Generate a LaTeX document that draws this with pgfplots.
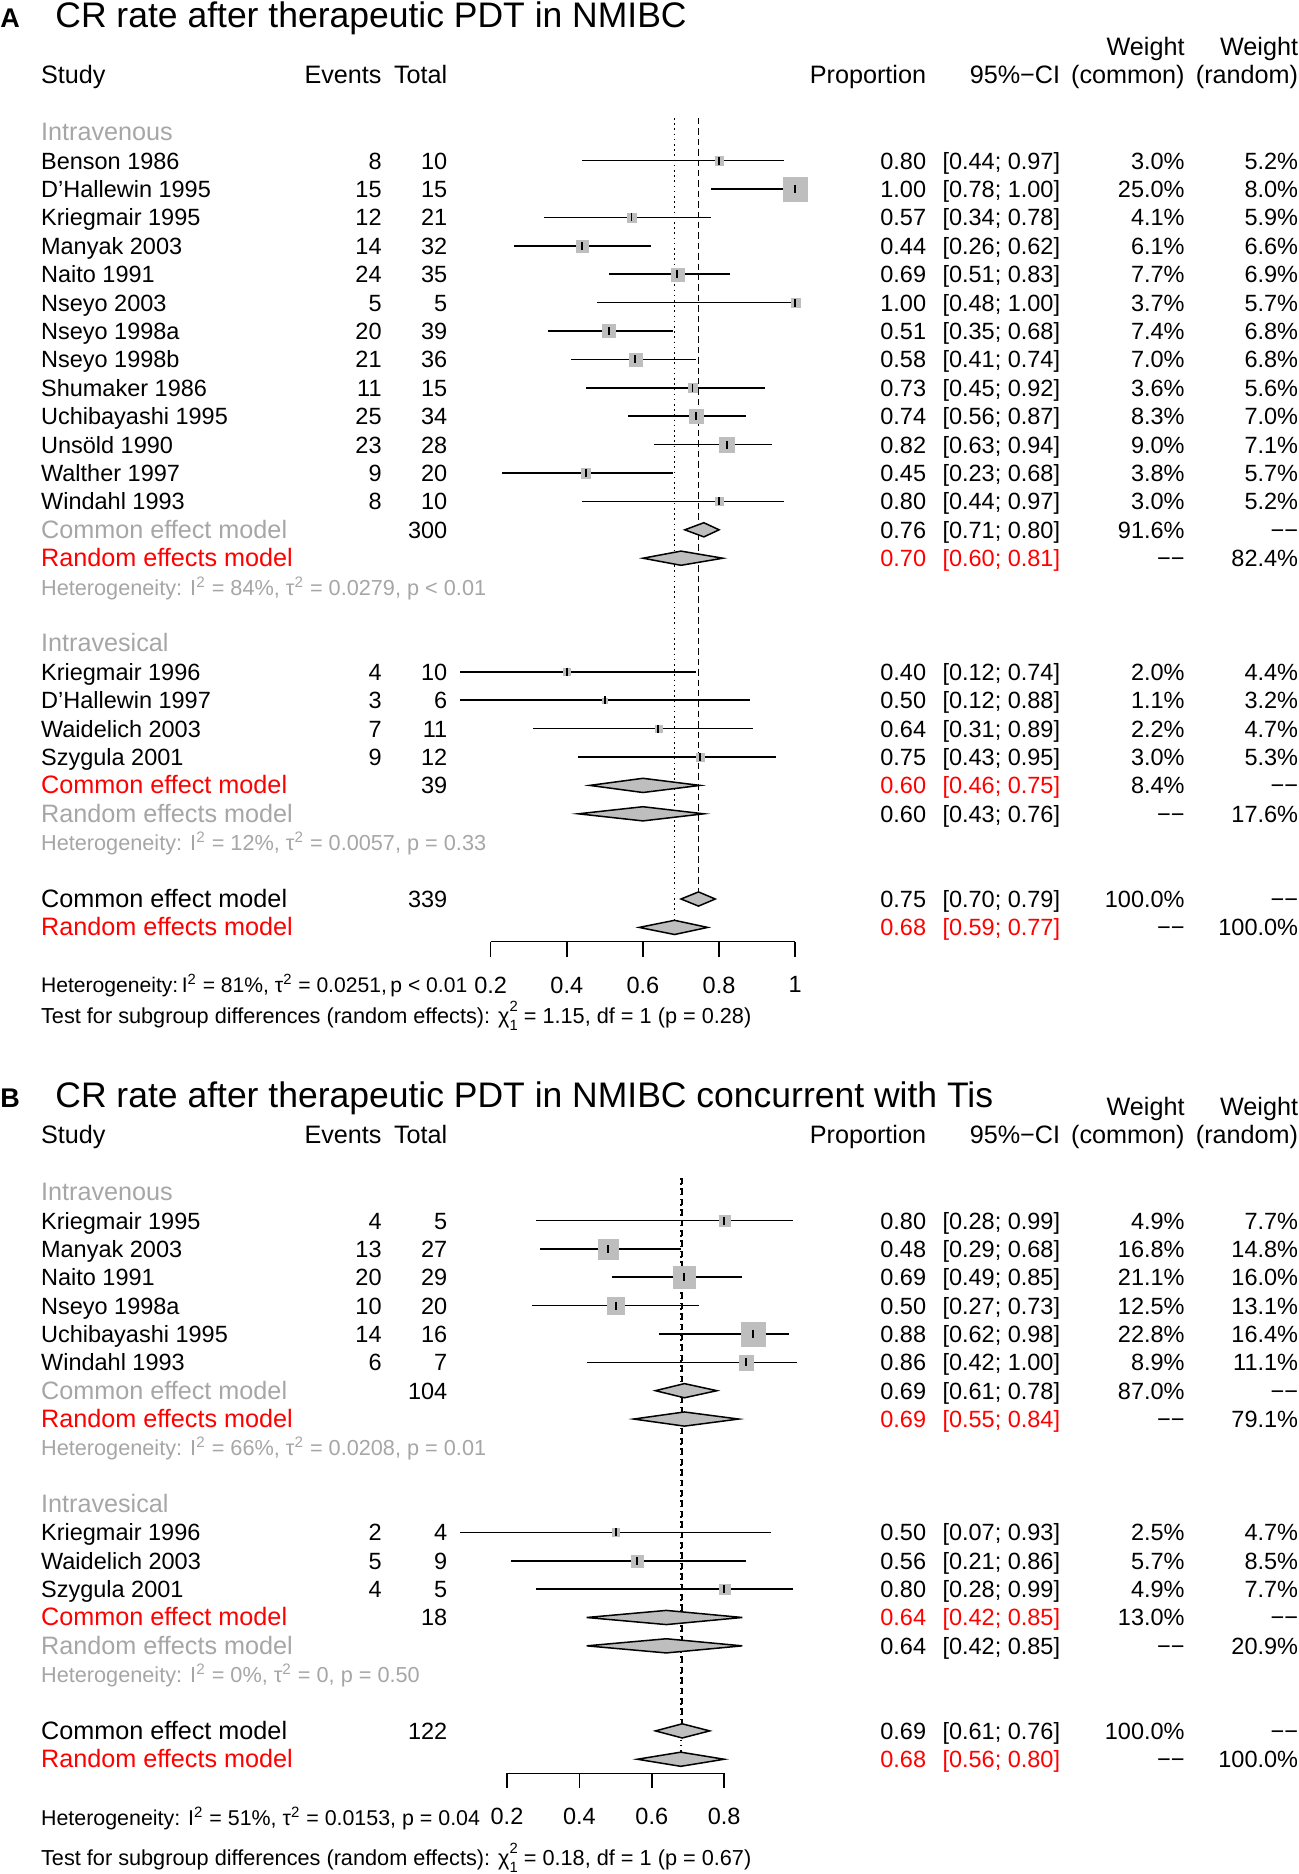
\documentclass[border=0pt]{standalone}
\usepackage{pgfplots}
\pgfplotsset{compat=1.18}
\usepackage{pgfplotstable}
\usepackage{fontspec}
\setmainfont{Liberation Sans}
\definecolor{sqgray}{RGB}{190,190,190}
\definecolor{txtgray}{RGB}{166,166,166}
\definecolor{rred}{RGB}{255,0,0}
\newcommand\fs{\fontsize{11.75}{14}\selectfont}
\newcommand\fm{\fontsize{12.6}{15}\selectfont}
\newcommand\fh{\fontsize{10.85}{13}\selectfont}
\newcommand\gr[1]{\textcolor{txtgray}{#1}}
\newcommand\rd[1]{\textcolor{rred}{#1}}
\newcommand\ml[1]{{\fm #1}}
\newcommand\dd{−−}
\newcommand\chisq{χ\rlap{\raisebox{0.52em}{\fontsize{7.4}{8}\selectfont 2}}\raisebox{-0.33em}{\fontsize{7.4}{8}\selectfont 1}}
\newcommand\Row[8]{%
\node[anchor=base west] at (40.7,{#1}) {#2};
\node[anchor=base east] at (382,{#1}) {#3};
\node[anchor=base east] at (447.7,{#1}) {#4};
\node[anchor=base east] at (926.5,{#1}) {#5};
\node[anchor=base east] at (1060.5,{#1}) {#6};
\node[anchor=base east] at (1185,{#1}) {#7};
\node[anchor=base east] at (1298.5,{#1}) {#8};}
\newcommand\yA[1]{169+28.4*(#1)}
\newcommand\yB[1]{1229+28.35*(#1)}

\pgfplotstableread{
y p lo hi wc
0 0.80 0.44 0.97 3.0
-1 1.00 0.78 1.00 25.0
-2 0.57 0.34 0.78 4.1
-3 0.44 0.26 0.62 6.1
-4 0.69 0.51 0.83 7.7
-5 1.00 0.48 1.00 3.7
-6 0.51 0.35 0.68 7.4
-7 0.58 0.41 0.74 7.0
-8 0.73 0.45 0.92 3.6
-9 0.74 0.56 0.87 8.3
-10 0.82 0.63 0.94 9.0
-11 0.45 0.23 0.68 3.8
-12 0.80 0.44 0.97 3.0
-18 0.40 0.12 0.74 2.0
-19 0.50 0.12 0.88 1.1
-20 0.64 0.31 0.89 2.2
-21 0.75 0.43 0.95 3.0
}\studA

\pgfplotstableread{
y p lo hi wc
0 0.80 0.28 0.99 4.9
-1 0.48 0.29 0.68 16.8
-2 0.69 0.49 0.85 21.1
-3 0.50 0.27 0.73 12.5
-4 0.88 0.62 0.98 22.8
-5 0.86 0.42 1.00 8.9
-11 0.50 0.07 0.93 2.5
-12 0.56 0.21 0.86 5.7
-13 0.80 0.28 0.99 4.9
}\studB

\pgfplotsset{
  forestaxis/.style={
    anchor=south west,
    axis x line=bottom, axis y line=none, x axis line style={-, line width=0.75pt},
    tick align=outside, major tick length=7.5pt,
    tick style={black, line width=0.75pt},
    xticklabel style={font=\fs, inner sep=0pt, yshift=-9.8pt},
    ytick=\empty, clip=false},
  diam/.style={fill=sqgray, draw=black, line width=0.75pt},
  dashref/.style={black, line width=0.75pt, dash pattern=on 3.2pt off 2pt},
  dotref/.style={black, line width=0.75pt, dash pattern=on 0.75pt off 1.85pt},
  sq/.style={scatter, only marks, mark=square*,
    scatter/use mapped color={draw=sqgray, fill=sqgray},
    mark options={line width=0.1pt}},
  cibars/.style={black, only marks, mark=|, mark size=2pt, mark options={line width=0.9pt, solid, draw=black},
    error bars/.cd, x dir=both, x explicit, error mark=none, error bar style={black, line width=0.8pt, solid}},
}

\begin{document}
\begin{tikzpicture}[every node/.style={font=\fs, inner sep=0pt}]
\useasboundingbox (0pt,0pt) rectangle (649.5pt,-937pt);

% ---------------- Panel A ----------------
\begin{axis}[forestaxis, at={(245.35pt,-470.8pt)}, x=190.3pt, y=14.2pt,
  xmin=0.2, xmax=1, ymin=-27.5, ymax=2,
  xtick={0.2,0.4,0.6,0.8,1}, xticklabels={0.2,0.4,0.6,0.8,1}]
\addplot[dashref] coordinates {(0.746,1.5) (0.746,-25.75)};
\addplot[dotref] coordinates {(0.683,1.5) (0.683,-26.75)};
\addplot[sq, visualization depends on={1.185*sqrt(\thisrow{wc}) \as \msz},
  scatter/@pre marker code/.append style={/tikz/mark size=\msz}] table[x=p, y=y] {\studA};
\addplot[cibars] table[x=p, y=y, x error minus expr=\thisrow{p}-\thisrow{lo}, x error plus expr=\thisrow{hi}-\thisrow{p}] {\studA};
\addplot[diam] coordinates {(0.71,-13) (0.76,-12.75) (0.80,-13) (0.76,-13.25)} -- cycle;
\addplot[diam] coordinates {(0.60,-14) (0.70,-13.75) (0.81,-14) (0.70,-14.25)} -- cycle;
\addplot[diam] coordinates {(0.46,-22) (0.60,-21.75) (0.75,-22) (0.60,-22.25)} -- cycle;
\addplot[diam] coordinates {(0.43,-23) (0.60,-22.75) (0.76,-23) (0.60,-23.25)} -- cycle;
\addplot[diam] coordinates {(0.70,-26) (0.746,-25.75) (0.79,-26) (0.746,-26.25)} -- cycle;
\addplot[diam] coordinates {(0.59,-27) (0.683,-26.75) (0.77,-27) (0.683,-27.25)} -- cycle;
\end{axis}

% ---------------- Panel B ----------------
\begin{axis}[forestaxis, at={(253.5pt,-886.7pt)}, x=181pt, y=14.175pt,
  xmin=0.2, xmax=0.8, ymin=-19.5, ymax=2,
  xtick={0.2,0.4,0.6,0.8}, xticklabels={0.2,0.4,0.6,0.8}]
\addplot[dashref] coordinates {(0.684,1.5) (0.684,-17.75)};
\addplot[dotref] coordinates {(0.68,1.5) (0.68,-18.75)};
\addplot[sq, visualization depends on={1.22*sqrt(\thisrow{wc}) \as \msz},
  scatter/@pre marker code/.append style={/tikz/mark size=\msz}] table[x=p, y=y] {\studB};
\addplot[cibars] table[x=p, y=y, x error minus expr=\thisrow{p}-\thisrow{lo}, x error plus expr=\thisrow{hi}-\thisrow{p}] {\studB};
\addplot[diam] coordinates {(0.61,-6) (0.69,-5.75) (0.78,-6) (0.69,-6.25)} -- cycle;
\addplot[diam] coordinates {(0.55,-7) (0.69,-6.75) (0.84,-7) (0.69,-7.25)} -- cycle;
\addplot[diam] coordinates {(0.42,-14) (0.64,-13.75) (0.85,-14) (0.64,-14.25)} -- cycle;
\addplot[diam] coordinates {(0.42,-15) (0.64,-14.75) (0.85,-15) (0.64,-15.25)} -- cycle;
\addplot[diam] coordinates {(0.61,-18) (0.684,-17.75) (0.76,-18) (0.684,-18.25)} -- cycle;
\addplot[diam] coordinates {(0.56,-19) (0.68,-18.75) (0.80,-19) (0.68,-19.25)} -- cycle;
\end{axis}

\begin{scope}[x=0.5pt, y=-0.5pt]
% ---- Panel A text ----
\node[anchor=base west, font=\bfseries\fontsize{13.5}{16}\selectfont] at (0,27) {A};
\node[anchor=base west, font=\fontsize{17.75}{20}\selectfont] at (55,27) {CR rate after therapeutic PDT in NMIBC};
\node[anchor=base east, font=\fm] at (1185,{\yA{-4}}) {Weight};
\node[anchor=base east, font=\fm] at (1298.5,{\yA{-4}}) {Weight};
\Row{\yA{-3}}{\ml{Study}}{\ml{Events}}{\ml{Total}}{\ml{Proportion}}{\ml{95\%−CI}}{\ml{(common)}}{\ml{(random)}}
\node[anchor=base west] at (40.7,{\yA{-1}}) {\ml{\gr{Intravenous}}};
\Row{\yA{0}}{Benson 1986}{8}{10}{0.80}{[0.44; 0.97]}{3.0\%}{5.2\%}
\Row{\yA{1}}{D'Hallewin 1995}{15}{15}{1.00}{[0.78; 1.00]}{25.0\%}{8.0\%}
\Row{\yA{2}}{Kriegmair 1995}{12}{21}{0.57}{[0.34; 0.78]}{4.1\%}{5.9\%}
\Row{\yA{3}}{Manyak 2003}{14}{32}{0.44}{[0.26; 0.62]}{6.1\%}{6.6\%}
\Row{\yA{4}}{Naito 1991}{24}{35}{0.69}{[0.51; 0.83]}{7.7\%}{6.9\%}
\Row{\yA{5}}{Nseyo 2003}{5}{5}{1.00}{[0.48; 1.00]}{3.7\%}{5.7\%}
\Row{\yA{6}}{Nseyo 1998a}{20}{39}{0.51}{[0.35; 0.68]}{7.4\%}{6.8\%}
\Row{\yA{7}}{Nseyo 1998b}{21}{36}{0.58}{[0.41; 0.74]}{7.0\%}{6.8\%}
\Row{\yA{8}}{Shumaker 1986}{11}{15}{0.73}{[0.45; 0.92]}{3.6\%}{5.6\%}
\Row{\yA{9}}{Uchibayashi 1995}{25}{34}{0.74}{[0.56; 0.87]}{8.3\%}{7.0\%}
\Row{\yA{10}}{Unsöld 1990}{23}{28}{0.82}{[0.63; 0.94]}{9.0\%}{7.1\%}
\Row{\yA{11}}{Walther 1997}{9}{20}{0.45}{[0.23; 0.68]}{3.8\%}{5.7\%}
\Row{\yA{12}}{Windahl 1993}{8}{10}{0.80}{[0.44; 0.97]}{3.0\%}{5.2\%}
\Row{\yA{13}}{\ml{\gr{Common effect model}}}{}{300}{0.76}{[0.71; 0.80]}{91.6\%}{\dd}
\Row{\yA{14}}{\ml{\rd{Random effects model}}}{}{}{\rd{0.70}}{\rd{[0.60; 0.81]}}{\dd}{82.4\%}
\node[anchor=base west, font=\fh] at (40.7,{\yA{15}}) {\gr{Heterogeneity: I\textsuperscript{2} = 84\%, τ\textsuperscript{2} = 0.0279, p < 0.01}};
\node[anchor=base west] at (40.7,{\yA{17}}) {\ml{\gr{Intravesical}}};
\Row{\yA{18}}{Kriegmair 1996}{4}{10}{0.40}{[0.12; 0.74]}{2.0\%}{4.4\%}
\Row{\yA{19}}{D'Hallewin 1997}{3}{6}{0.50}{[0.12; 0.88]}{1.1\%}{3.2\%}
\Row{\yA{20}}{Waidelich 2003}{7}{11}{0.64}{[0.31; 0.89]}{2.2\%}{4.7\%}
\Row{\yA{21}}{Szygula 2001}{9}{12}{0.75}{[0.43; 0.95]}{3.0\%}{5.3\%}
\Row{\yA{22}}{\ml{\rd{Common effect model}}}{}{39}{\rd{0.60}}{\rd{[0.46; 0.75]}}{8.4\%}{\dd}
\Row{\yA{23}}{\ml{\gr{Random effects model}}}{}{}{0.60}{[0.43; 0.76]}{\dd}{17.6\%}
\node[anchor=base west, font=\fh] at (40.7,{\yA{24}}) {\gr{Heterogeneity: I\textsuperscript{2} = 12\%, τ\textsuperscript{2} = 0.0057, p = 0.33}};
\Row{\yA{26}}{\ml{Common effect model}}{}{339}{0.75}{[0.70; 0.79]}{100.0\%}{\dd}
\Row{\yA{27}}{\ml{\rd{Random effects model}}}{}{}{\rd{0.68}}{\rd{[0.59; 0.77]}}{\dd}{100.0\%}
\node[anchor=base west, font=\fontsize{10.55}{13}\selectfont] at (40.7,992) {Heterogeneity:\,I\textsuperscript{2} = 81\%, τ\textsuperscript{2} = 0.0251,\,p < 0.01};
\node[anchor=base west, font=\fh] at (40.7,1023) {Test for subgroup differences (random effects): \chisq{} = 1.15, df = 1 (p = 0.28)};

% ---- Panel B text ----
\node[anchor=base west, font=\bfseries\fontsize{13.5}{16}\selectfont] at (0,1107) {B};
\node[anchor=base west, font=\fontsize{17.75}{20}\selectfont] at (55,1107) {CR rate after therapeutic PDT in NMIBC concurrent with Tis};
\node[anchor=base east, font=\fm] at (1185,{\yB{-4}}) {Weight};
\node[anchor=base east, font=\fm] at (1298.5,{\yB{-4}}) {Weight};
\Row{\yB{-3}}{\ml{Study}}{\ml{Events}}{\ml{Total}}{\ml{Proportion}}{\ml{95\%−CI}}{\ml{(common)}}{\ml{(random)}}
\node[anchor=base west] at (40.7,{\yB{-1}}) {\ml{\gr{Intravenous}}};
\Row{\yB{0}}{Kriegmair 1995}{4}{5}{0.80}{[0.28; 0.99]}{4.9\%}{7.7\%}
\Row{\yB{1}}{Manyak 2003}{13}{27}{0.48}{[0.29; 0.68]}{16.8\%}{14.8\%}
\Row{\yB{2}}{Naito 1991}{20}{29}{0.69}{[0.49; 0.85]}{21.1\%}{16.0\%}
\Row{\yB{3}}{Nseyo 1998a}{10}{20}{0.50}{[0.27; 0.73]}{12.5\%}{13.1\%}
\Row{\yB{4}}{Uchibayashi 1995}{14}{16}{0.88}{[0.62; 0.98]}{22.8\%}{16.4\%}
\Row{\yB{5}}{Windahl 1993}{6}{7}{0.86}{[0.42; 1.00]}{8.9\%}{11.1\%}
\Row{\yB{6}}{\ml{\gr{Common effect model}}}{}{104}{0.69}{[0.61; 0.78]}{87.0\%}{\dd}
\Row{\yB{7}}{\ml{\rd{Random effects model}}}{}{}{\rd{0.69}}{\rd{[0.55; 0.84]}}{\dd}{79.1\%}
\node[anchor=base west, font=\fh] at (40.7,{\yB{8}}) {\gr{Heterogeneity: I\textsuperscript{2} = 66\%, τ\textsuperscript{2} = 0.0208, p = 0.01}};
\node[anchor=base west] at (40.7,{\yB{10}}) {\ml{\gr{Intravesical}}};
\Row{\yB{11}}{Kriegmair 1996}{2}{4}{0.50}{[0.07; 0.93]}{2.5\%}{4.7\%}
\Row{\yB{12}}{Waidelich 2003}{5}{9}{0.56}{[0.21; 0.86]}{5.7\%}{8.5\%}
\Row{\yB{13}}{Szygula 2001}{4}{5}{0.80}{[0.28; 0.99]}{4.9\%}{7.7\%}
\Row{\yB{14}}{\ml{\rd{Common effect model}}}{}{18}{\rd{0.64}}{\rd{[0.42; 0.85]}}{13.0\%}{\dd}
\Row{\yB{15}}{\ml{\gr{Random effects model}}}{}{}{0.64}{[0.42; 0.85]}{\dd}{20.9\%}
\node[anchor=base west, font=\fh] at (40.7,{\yB{16}}) {\gr{Heterogeneity: I\textsuperscript{2} = 0\%, τ\textsuperscript{2} = 0, p = 0.50}};
\Row{\yB{18}}{\ml{Common effect model}}{}{122}{0.69}{[0.61; 0.76]}{100.0\%}{\dd}
\Row{\yB{19}}{\ml{\rd{Random effects model}}}{}{}{\rd{0.68}}{\rd{[0.56; 0.80]}}{\dd}{100.0\%}
\node[anchor=base west, font=\fontsize{10.7}{13}\selectfont] at (40.7,1825) {Heterogeneity: I\textsuperscript{2} = 51\%, τ\textsuperscript{2} = 0.0153, p = 0.04};
\node[anchor=base west, font=\fh] at (40.7,1865) {Test for subgroup differences (random effects): \chisq{} = 0.18, df = 1 (p = 0.67)};
\end{scope}
\end{tikzpicture}
\end{document}
